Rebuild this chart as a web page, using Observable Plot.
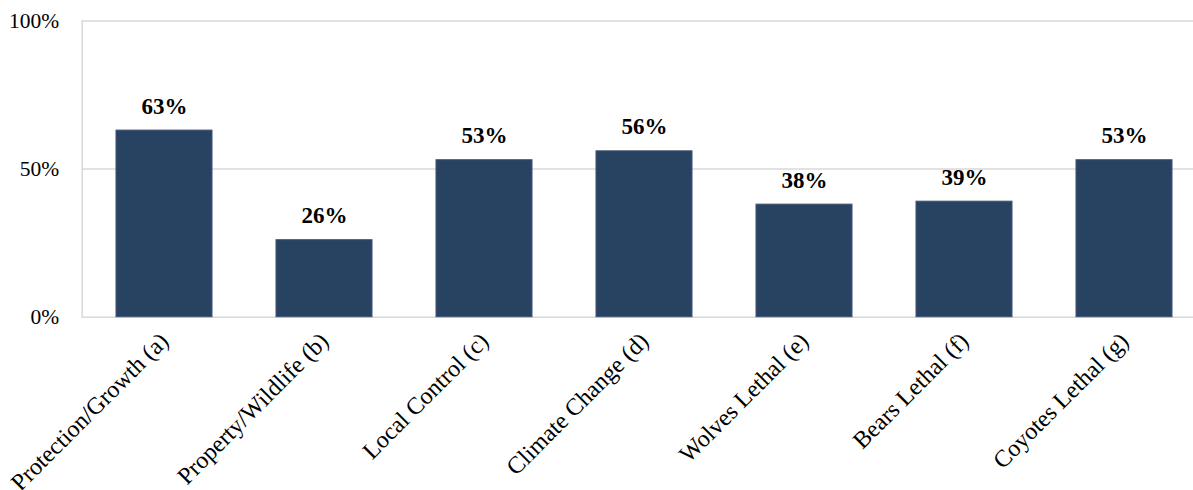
<!DOCTYPE html>
<html>
<head>
<meta charset="utf-8">
<script src="https://cdn.jsdelivr.net/npm/d3@7"></script>
<script src="https://cdn.jsdelivr.net/npm/@observablehq/plot@0.6"></script>
<style>
  html, body { margin: 0; padding: 0; background: #fff; }
  #wrap { width: 1193px; height: 490px; overflow: hidden; }
  #wrap svg { max-width: none !important; }
</style>
</head>
<body>
<div id="wrap"></div>
<script>
const categories = ["Protection/Growth (a)", "Property/Wildlife (b)", "Local Control (c)", "Climate Change (d)", "Wolves Lethal (e)", "Bears Lethal (f)", "Coyotes Lethal (g)"];
const values = [63, 26, 53, 56, 38, 39, 53];
const yTicks = [0, 50, 100];

const data = categories.map((c, i) => ({category: c, value: values[i]}));
const font = "'Liberation Serif', 'Times New Roman', serif";

const chart = Plot.plot({
  width: 1207,
  height: 490,
  marginLeft: 81.7,
  marginRight: 0.7,
  marginTop: 20.5,
  marginBottom: 173.3,
  style: {fontFamily: font, background: "#fff", color: "#000", maxWidth: "none"},
  x: {domain: categories, paddingInner: 0.4, paddingOuter: 0.2, label: null},
  y: {domain: [0, 100], label: null},
  marks: [
    Plot.gridY(yTicks, {stroke: "#d9d9d9", strokeOpacity: 1, strokeWidth: 1.5}),
    Plot.frame({anchor: "left", stroke: "#d9d9d9", strokeWidth: 1.5}),
    Plot.barY(data, {x: "category", y: "value", fill: "#284261", stroke: "#3d5574", strokeWidth: 1}),
    Plot.text(data, {x: "category", y: "value", text: d => d.value + "%", fontWeight: "bold", fontSize: 23, lineAnchor: "bottom", dy: -17, fill: "#000"}),
    Plot.axisY(yTicks, {tickSize: 0, tickPadding: 23, tickFormat: d => d + "%", fontSize: 21.5, fill: "#000"}),
    Plot.axisX({tickSize: 0, tickPadding: 20, tickRotate: -45, fontSize: 24, fill: "#000"})
  ]
});
chart.style.maxWidth = "none";
document.getElementById("wrap").appendChild(chart);
</script>
</body>
</html>
